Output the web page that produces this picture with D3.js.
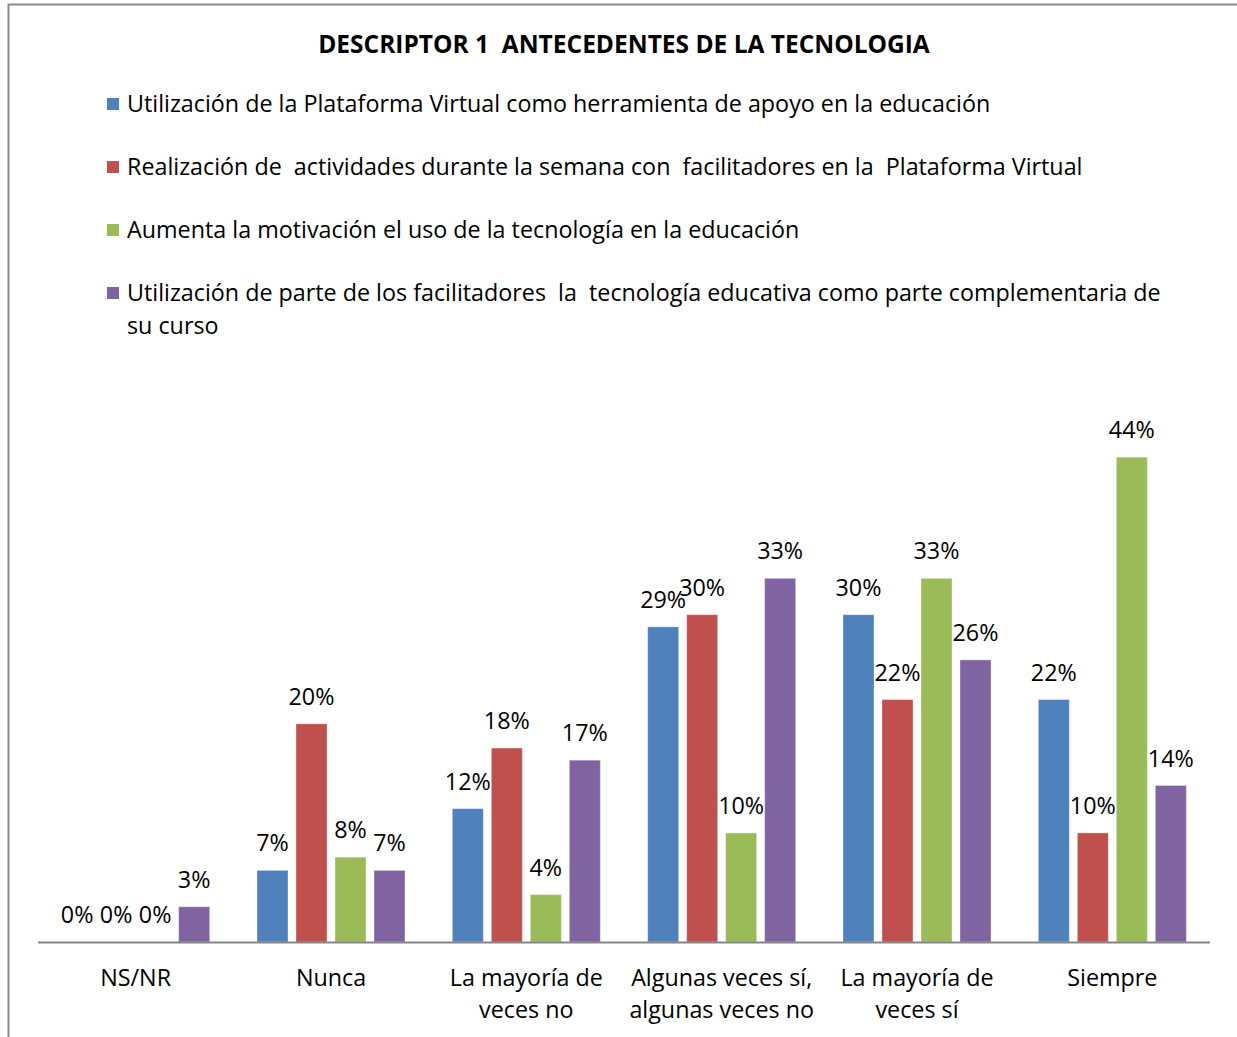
<!DOCTYPE html>
<html>
<head>
<meta charset="utf-8">
<script src="https://cdn.jsdelivr.net/npm/d3@7"></script>
<style>
    body { margin: 0; background: #fff; }
    svg text { font-family: "Open Sans", sans-serif; fill: #000; white-space: pre; }
</style>
</head>
<body>
<svg id="chart" width="1237" height="1037"></svg>
<script>
var width = 1237,
    height = 1037;

// Categories on the x axis (each may wrap on two lines)
var categories = ["NS/NR", "Nunca", "La mayoría de veces no", "Algunas veces sí, algunas veces no", "La mayoría de veces sí", "Siempre"];
var category_lines = [["NS/NR"], ["Nunca"], ["La mayoría de", "veces no"], ["Algunas veces sí,", "algunas veces no"], ["La mayoría de", "veces sí"], ["Siempre"]];

// Series names (legend)
var series = [
    "Utilización de la Plataforma Virtual como herramienta de apoyo en la educación",
    "Realización de  actividades durante la semana con  facilitadores en la  Plataforma Virtual",
    "Aumenta la motivación el uso de la tecnología en la educación",
    "Utilización de parte de los facilitadores  la  tecnología educativa como parte complementaria de su curso"
];
var series_lines = [
    [series[0]],
    [series[1]],
    [series[2]],
    ["Utilización de parte de los facilitadores  la  tecnología educativa como parte complementaria de", "su curso"]
];
var colors = ["#4F81BD", "#C0504D", "#9BBB59", "#8064A2"];

// Values per series (share of answers), in category order
var plataforma = [0, 0.065, 0.121, 0.286, 0.297, 0.22];
var actividades = [0, 0.198, 0.176, 0.297, 0.22, 0.099];
var motivacion = [0, 0.077, 0.043, 0.099, 0.33, 0.44];
var facilitadores = [0.032, 0.065, 0.165, 0.33, 0.256, 0.142];
var values = [plataforma, actividades, motivacion, facilitadores];

var font_size = 23.3;

var svg = d3.select("#chart");

svg.append("rect").attr("width", width).attr("height", height).attr("fill", "#fff");

// Chart border (left and top visible)
svg.append("rect")
    .attr("x", 8.5).attr("y", 4.5)
    .attr("width", width + 20).attr("height", height + 20)
    .attr("fill", "none")
    .attr("stroke", "#8a8a8a")
    .attr("stroke-width", 2);

// Title
svg.append("text")
    .attr("x", 624).attr("y", 53)
    .attr("text-anchor", "middle")
    .attr("font-weight", "bold")
    .attr("font-size", 24.5)
    .text("DESCRIPTOR 1  ANTECEDENTES DE LA TECNOLOGIA");

// Legend
var legend = svg.append("g").attr("class", "legend");
var legend_rows = [104, 167, 230, 293];
series_lines.forEach(function (lines, i) {
    legend.append("rect")
        .attr("x", 107).attr("y", legend_rows[i] - 6)
        .attr("width", 12).attr("height", 12)
        .attr("fill", colors[i]);
    lines.forEach(function (line, j) {
        legend.append("text")
            .attr("x", 127).attr("y", legend_rows[i] + 8 + j * 33)
            .attr("font-size", font_size)
            .text(line);
    });
});

// Scales
var x0 = d3.scaleBand().domain(categories).range([38, 1210]).padding(0);
var bw = x0.bandwidth();
var x1 = d3.scaleBand().domain(d3.range(series.length))
    .range([bw / 2 - 82, bw / 2 + 82])
    .paddingInner(0.205).paddingOuter(0.205);
var y = d3.scaleLinear().domain([0, 0.5]).range([942, 942 - 0.5 * 1102]);
var fmt = d3.format(".0%");

// Bars
var groups = svg.append("g").attr("class", "bars")
    .selectAll("g")
    .data(categories)
    .join("g")
    .attr("transform", function (d) {
        return "translate(" + x0(d) + ",0)";
    });

groups.selectAll("rect")
    .data(function (d, ci) {
        return values.map(function (v, si) {
            return { s: si, v: v[ci] };
        });
    })
    .join("rect")
    .attr("x", function (d) { return x1(d.s); })
    .attr("y", function (d) { return y(d.v); })
    .attr("width", x1.bandwidth())
    .attr("height", function (d) { return y(0) - y(d.v); })
    .attr("fill", function (d) { return colors[d.s]; })
    .attr("stroke", "#ffffff")
    .attr("stroke-opacity", 0.35)
    .attr("stroke-width", 1);

// Value labels
groups.selectAll("text")
    .data(function (d, ci) {
        return values.map(function (v, si) {
            return { s: si, v: v[ci] };
        });
    })
    .join("text")
    .attr("x", function (d) { return x1(d.s) + x1.bandwidth() / 2; })
    .attr("y", function (d) { return y(d.v) - 19; })
    .attr("text-anchor", "middle")
    .attr("font-size", font_size)
    .text(function (d) { return fmt(d.v); });

// X axis line
svg.append("line")
    .attr("x1", 38).attr("x2", 1210)
    .attr("y1", y(0) + 0.5).attr("y2", y(0) + 0.5)
    .attr("stroke", "#868686")
    .attr("stroke-width", 2);

// Category labels
var cat = svg.append("g").attr("class", "categories");
category_lines.forEach(function (lines, i) {
    lines.forEach(function (line, j) {
        cat.append("text")
            .attr("x", x0(categories[i]) + bw / 2)
            .attr("y", 986 + j * 32)
            .attr("text-anchor", "middle")
            .attr("font-size", font_size)
            .text(line);
    });
});
</script>
</body>
</html>
